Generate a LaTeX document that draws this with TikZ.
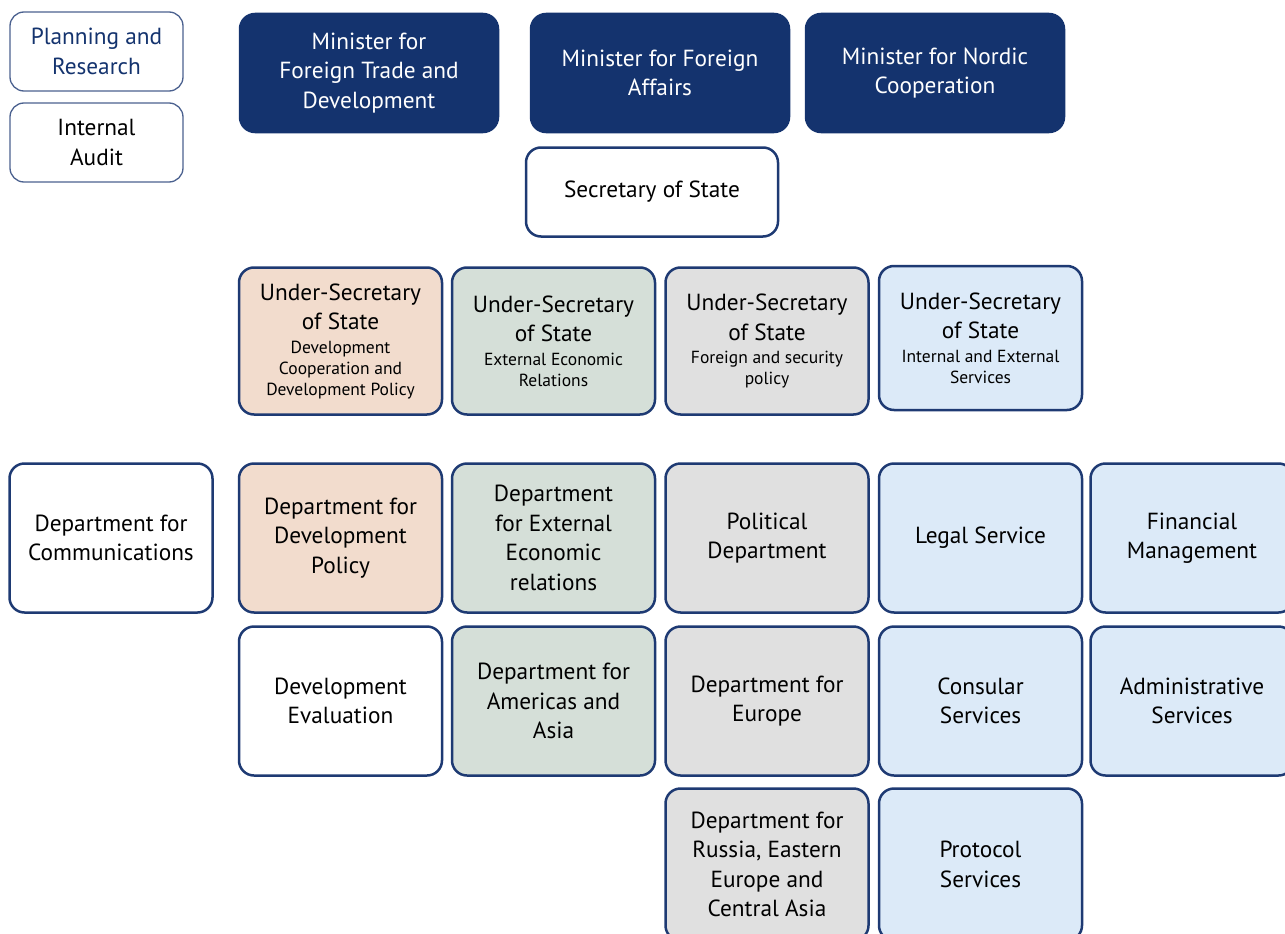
\documentclass[tikz,border=0pt]{standalone}
\usepackage{fontspec}
\setmainfont{PT Sans}
\usepackage{tikz}
\definecolor{navy}{RGB}{20,51,110}
\definecolor{rim}{RGB}{30,58,115}
\definecolor{peach}{RGB}{242,220,205}
\definecolor{sage}{RGB}{213,223,216}
\definecolor{pale}{RGB}{224,224,224}
\definecolor{sky}{RGB}{220,234,248}
\newcommand{\sm}[1]{{\fontsize{17.5}{21}\selectfont #1}}

\begin{document}
\begin{tikzpicture}[x=1pt,y=-1pt,
  unit/.style={draw=rim, line width=2.5pt, rounded corners=15pt, align=center,
    font=\fontsize{23.3}{29.5}\selectfont, inner sep=0pt,
    minimum width=203pt, minimum height=149pt},
  staff/.style={unit, line width=1.3pt, draw=rim!80!white, rounded corners=14pt,
    minimum width=173pt, minimum height=79pt},
  minister/.style={unit, fill=navy, draw=navy, text=white,
    minimum width=258pt, minimum height=118pt}]
\useasboundingbox (0,0) rectangle (1285,934);

% staff functions
\node[staff, text=navy] (plan) at (96.5,51.5) {Planning and\\Research};
\node[staff] (audit) at (96.5,142.5) {Internal\\Audit};

% ministers
\node[minister] (trade) at (369,73) {Minister for\\Foreign Trade and\\Development};
\node[minister] (foreign) at (660,73) {Minister for Foreign\\Affairs};
\node[minister] (nordic) at (935,73) {Minister for Nordic\\Cooperation};
\node[unit, minimum width=252pt, minimum height=89pt] (secstate) at (652,192)
  {Secretary of State};

% under-secretaries
\node[unit, fill=peach, minimum height=147pt] (usdev) at (340.5,341)
  {Under-Secretary\\of State\\[-6pt]\sm{Development}\\[-8.5pt]\sm{Cooperation and}\\[-8.5pt]\sm{Development Policy}};
\node[unit, fill=sage, minimum height=147pt] (usext) at (553.5,341)
  {Under-Secretary\\of State\\[-6pt]\sm{External Economic}\\[-8.5pt]\sm{Relations}};
\node[unit, fill=pale, minimum height=147pt] (ussec) at (767,341)
  {Under-Secretary\\of State\\[-6pt]\sm{Foreign and security}\\[-8.5pt]\sm{policy}};
\node[unit, fill=sky, minimum height=144pt] (usint) at (980.5,338)
  {Under-Secretary\\of State\\[-6pt]\sm{Internal and External}\\[-8.5pt]\sm{Services}};

% departments
\node[unit] (comm) at (111,538) {Department for\\Communications};
\node[unit, fill=peach] (devpol) at (340.5,538) {Department for\\Development\\Policy};
\node[unit, fill=sage] (extrel) at (553.5,538) {Department\\for External\\Economic\\relations};
\node[unit, fill=pale] (polit) at (767,538) {Political\\Department};
\node[unit, fill=sky] (legal) at (980.5,538) {Legal Service};
\node[unit, fill=sky] (finance) at (1192,538) {Financial\\Management};

\node[unit] (deveval) at (340.5,701) {Development\\Evaluation};
\node[unit, fill=sage] (americas) at (553.5,701) {Department for\\Americas and\\Asia};
\node[unit, fill=pale] (europe) at (767,701) {Department for\\Europe};
\node[unit, fill=sky] (consular) at (980.5,701) {Consular\\Services};
\node[unit, fill=sky] (admin) at (1192,701) {Administrative\\Services};

\node[unit, fill=pale, minimum height=152pt] (russia) at (767,864.5)
  {Department for\\Russia, Eastern\\Europe and\\Central Asia};
\node[unit, fill=sky, minimum height=152pt] (protocol) at (980.5,864.5) {Protocol\\Services};
\end{tikzpicture}
\end{document}
